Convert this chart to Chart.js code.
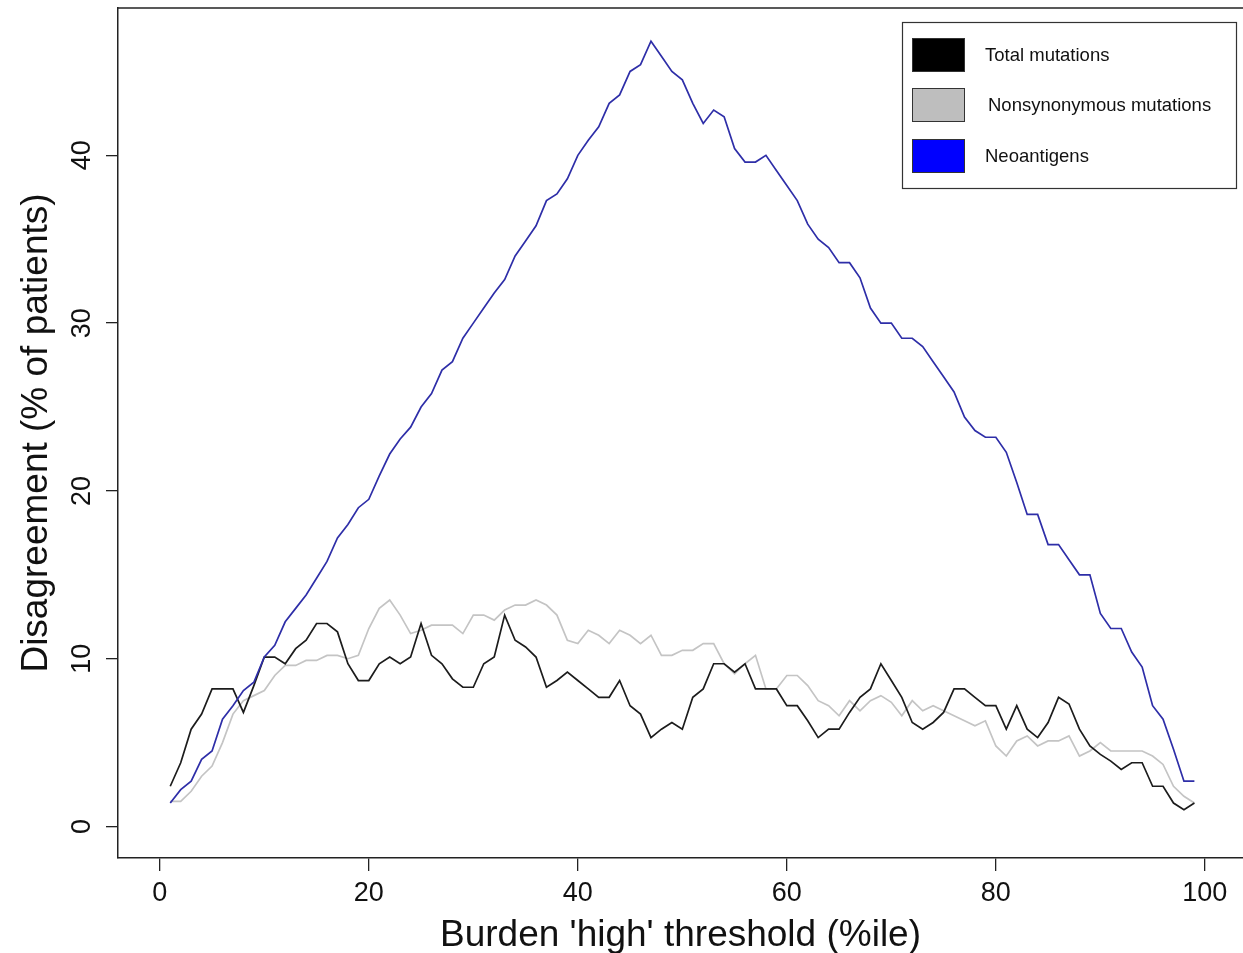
<!DOCTYPE html>
<html>
<head>
<meta charset="utf-8">
<script src="https://cdn.jsdelivr.net/npm/chart.js@4.4.0/dist/chart.umd.min.js"></script>
<style>
  html, body { margin: 0; padding: 0; background: #fff; overflow: hidden; }
</style>
</head>
<body>
<canvas id="chart" width="1243" height="953"></canvas>
<script>
// Burden 'high' threshold percentiles
const thresholds = [
   1,  2,  3,  4,  5,  6,  7,  8,  9, 10, 11, 12, 13, 14, 15, 16, 17, 18, 19, 20,
  21, 22, 23, 24, 25, 26, 27, 28, 29, 30, 31, 32, 33, 34, 35, 36, 37, 38, 39, 40,
  41, 42, 43, 44, 45, 46, 47, 48, 49, 50, 51, 52, 53, 54, 55, 56, 57, 58, 59, 60,
  61, 62, 63, 64, 65, 66, 67, 68, 69, 70, 71, 72, 73, 74, 75, 76, 77, 78, 79, 80,
  81, 82, 83, 84, 85, 86, 87, 88, 89, 90, 91, 92, 93, 94, 95, 96, 97, 98, 99
];

// Disagreement (% of patients) per series
const totalMutations = [
  2.4, 3.8, 5.8, 6.7, 8.2, 8.2, 8.2, 6.8, 8.4, 10.1, 10.1, 9.7, 10.6, 11.1, 12.1, 12.1, 11.6, 9.7, 8.7, 8.7,
  9.7, 10.1, 9.7, 10.1, 12.1, 10.2, 9.7, 8.8, 8.3, 8.3, 9.7, 10.1, 12.6, 11.1, 10.7, 10.1, 8.3, 8.7, 9.2, 8.7,
  8.2, 7.7, 7.7, 8.7, 7.2, 6.7, 5.3, 5.8, 6.2, 5.8, 7.7, 8.2, 9.7, 9.7, 9.2, 9.7, 8.2, 8.2, 8.2, 7.2,
  7.2, 6.3, 5.3, 5.8, 5.8, 6.8, 7.7, 8.2, 9.7, 8.7, 7.7, 6.2, 5.8, 6.2, 6.8, 8.2, 8.2, 7.7, 7.2, 7.2,
  5.8, 7.2, 5.8, 5.3, 6.2, 7.7, 7.3, 5.8, 4.8, 4.3, 3.9, 3.4, 3.8, 3.8, 2.4, 2.4, 1.4, 1.0, 1.4
];
const nonsynMutations = [
  1.5, 1.5, 2.1, 3.0, 3.6, 5.0, 6.7, 7.5, 7.8, 8.1, 9.0, 9.6, 9.6, 9.9, 9.9, 10.2, 10.2, 10.0, 10.2, 11.8,
  13.0, 13.5, 12.6, 11.5, 11.7, 12.0, 12.0, 12.0, 11.5, 12.6, 12.6, 12.3, 12.9, 13.2, 13.2, 13.5, 13.2, 12.6, 11.1, 10.9,
  11.7, 11.4, 10.9, 11.7, 11.4, 10.9, 11.4, 10.2, 10.2, 10.5, 10.5, 10.9, 10.9, 9.7, 9.1, 9.7, 10.2, 8.2, 8.2, 9.0,
  9.0, 8.4, 7.5, 7.2, 6.6, 7.5, 6.9, 7.5, 7.8, 7.4, 6.6, 7.5, 6.9, 7.2, 6.9, 6.6, 6.3, 6.0, 6.3, 4.8,
  4.2, 5.1, 5.4, 4.8, 5.1, 5.1, 5.4, 4.2, 4.5, 5.0, 4.5, 4.5, 4.5, 4.5, 4.2, 3.7, 2.4, 1.8, 1.4
];
const neoantigens = [
  1.4, 2.2, 2.7, 4.0, 4.5, 6.4, 7.2, 8.1, 8.6, 10.1, 10.8, 12.2, 13.0, 13.8, 14.8, 15.8, 17.2, 18.0, 19.0, 19.5,
  20.9, 22.2, 23.1, 23.8, 25.0, 25.8, 27.2, 27.7, 29.1, 30.0, 30.9, 31.8, 32.6, 34.0, 34.9, 35.8, 37.3, 37.7, 38.6, 40.0,
  40.9, 41.7, 43.1, 43.6, 45.0, 45.4, 46.8, 45.9, 45.0, 44.5, 43.1, 41.9, 42.7, 42.3, 40.4, 39.6, 39.6, 40.0, 39.1, 38.2,
  37.3, 35.9, 35.0, 34.5, 33.6, 33.6, 32.7, 30.9, 30.0, 30.0, 29.1, 29.1, 28.6, 27.7, 26.8, 25.9, 24.4, 23.6, 23.2, 23.2,
  22.3, 20.5, 18.6, 18.6, 16.8, 16.8, 15.9, 15.0, 15.0, 12.7, 11.8, 11.8, 10.4, 9.5, 7.2, 6.4, 4.6, 2.7, 2.7
];

const seriesLabels = ['Total mutations', 'Nonsynonymous mutations', 'Neoantigens'];
const xTicks = [0, 20, 40, 60, 80, 100];
const yTicks = [0, 10, 20, 30, 40];

const FONT = '"Liberation Sans", Arial, Helvetica, sans-serif';

const toPoints = vals => thresholds.map((t, i) => ({ x: t, y: vals[i] }));

// box frame (top edge) + R-style legend with filled swatches
const framePlugin = {
    id: 'frame',
    afterDraw(chart) {
        const ctx = chart.ctx;
        const a = chart.chartArea;
        ctx.save();
        ctx.strokeStyle = '#222';
        ctx.lineWidth = 1.5;
        ctx.beginPath();
        ctx.moveTo(a.left, a.top);
        ctx.lineTo(a.right, a.top);
        ctx.stroke();

        // legend box
        const box = { x: 902.5, y: 22.5, w: 334, h: 166 };
        ctx.fillStyle = '#fff';
        ctx.fillRect(box.x, box.y, box.w, box.h);
        ctx.strokeStyle = '#333';
        ctx.lineWidth = 1.2;
        ctx.strokeRect(box.x, box.y, box.w, box.h);

        const swatches = ['#000000', '#bebebe', '#0000ff'];
        const rowY = [38, 88, 139];
        ctx.font = '18.5px ' + FONT;
        ctx.textBaseline = 'middle';
        ctx.textAlign = 'left';
        chart.data.datasets.forEach((ds, i) => {
            ctx.fillStyle = swatches[i];
            ctx.fillRect(912, rowY[i], 53, 34);
            ctx.strokeStyle = '#333';
            ctx.lineWidth = 1;
            ctx.strokeRect(912.5, rowY[i] + 0.5, 52, 33);
            ctx.fillStyle = '#111';
            ctx.fillText(ds.label, i === 1 ? 988 : 985, rowY[i] + 18);
        });
        ctx.restore();
    }
};

new Chart(document.getElementById('chart'), {
    type: 'line',
    data: {
        datasets: [
            {
                label: seriesLabels[0],
                data: toPoints(totalMutations),
                borderColor: '#1c1c1c',
                borderWidth: 1.7,
                pointRadius: 0,
                tension: 0,
                order: 1
            },
            {
                label: seriesLabels[1],
                data: toPoints(nonsynMutations),
                borderColor: '#c4c4c4',
                borderWidth: 1.7,
                pointRadius: 0,
                tension: 0,
                order: 2
            },
            {
                label: seriesLabels[2],
                data: toPoints(neoantigens),
                borderColor: '#2e2ea8',
                borderWidth: 1.7,
                pointRadius: 0,
                tension: 0,
                order: 0
            }
        ]
    },
    options: {
        responsive: false,
        devicePixelRatio: 1,
        animation: false,
        layout: { padding: { top: 8, left: 0, right: 0, bottom: 0 } },
        plugins: {
            legend: { display: false },
            tooltip: { enabled: false }
        },
        scales: {
            x: {
                type: 'linear',
                min: -4,
                max: 103.65,
                afterFit: s => { s.height = 95; s.paddingLeft = 0; s.paddingRight = 0; },
                afterBuildTicks: s => { s.ticks = xTicks.map(v => ({ value: v })); },
                ticks: {
                    font: { family: FONT, size: 27 },
                    color: '#111',
                    padding: 6,
                    maxRotation: 0
                },
                grid: {
                    drawOnChartArea: false,
                    drawTicks: true,
                    tickLength: 13,
                    color: '#222',
                    lineWidth: 1.3
                },
                border: { display: true, color: '#222', width: 1.5 },
                title: {
                    display: true,
                    text: "Burden 'high' threshold (%ile)",
                    font: { family: FONT, size: 37 },
                    color: '#111',
                    padding: { top: 0, bottom: -5 }
                }
            },
            y: {
                type: 'linear',
                min: -1.876,
                max: 48.78,
                afterFit: s => { s.width = 118; s.paddingTop = 0; s.paddingBottom = 0; },
                afterBuildTicks: s => { s.ticks = yTicks.map(v => ({ value: v })); },
                ticks: {
                    font: { family: FONT, size: 27 },
                    color: '#111',
                    padding: 8,
                    minRotation: 90,
                    maxRotation: 90,
                    crossAlign: 'center'
                },
                grid: {
                    drawOnChartArea: false,
                    drawTicks: true,
                    tickLength: 12,
                    color: '#222',
                    lineWidth: 1.3
                },
                border: { display: true, color: '#222', width: 1.5 },
                title: {
                    display: true,
                    text: 'Disagreement (% of patients)',
                    font: { family: FONT, size: 37 },
                    color: '#111',
                    padding: { top: 15, bottom: 0 }
                }
            }
        }
    },
    plugins: [framePlugin]
});
</script>
</body>
</html>
